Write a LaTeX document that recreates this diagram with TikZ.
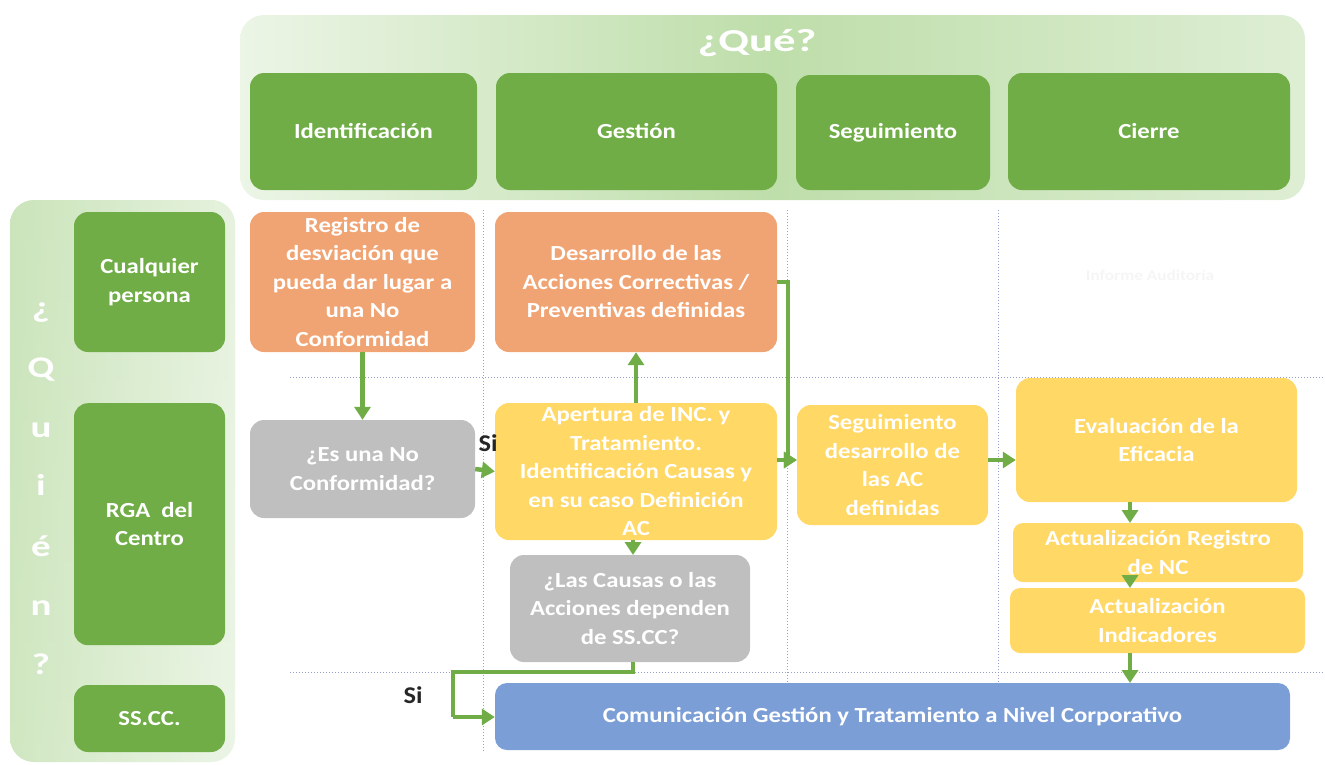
\documentclass[tikz,border=0pt]{standalone}
\usepackage{fontspec}
\setmainfont{Carlito}[FakeStretch=1.15]
\newfontfamily\titlefont{Carlito}[FakeStretch=1.4]
\newfontfamily\letterfont{Carlito}[FakeStretch=1.3]
\newfontfamily\sifont{Carlito}[FakeStretch=1.1]
\usetikzlibrary{arrows.meta}
\definecolor{hgreen}{RGB}{112,173,71}
\definecolor{borange}{RGB}{241,164,115}
\definecolor{byellow}{RGB}{255,216,102}
\definecolor{bgray}{RGB}{191,191,191}
\definecolor{bblue}{RGB}{124,158,214}
\definecolor{pgreenA}{RGB}{236,245,230}
\definecolor{pgreenB}{RGB}{190,222,170}
\definecolor{pgreenC}{RGB}{222,238,212}
\definecolor{dotcol}{RGB}{150,160,205}
\tikzset{
  box/.style={draw=none, rounded corners=14pt, inner sep=0pt, align=center,
    text=white, font=\bfseries\fontsize{21.5}{28.5}\selectfont},
  hdr/.style={box, fill=hgreen},
  orangebox/.style={box, fill=borange},
  yellowbox/.style={box, fill=byellow},
  graybox/.style={box, fill=bgray},
  bluebox/.style={box, fill=bblue},
  conn/.style={draw=hgreen, line width=4.5pt},
  arr/.style={conn, -{Triangle[width=16pt,length=13pt]}},
  sep/.style={draw=dotcol, dotted, line width=1pt},
  lbl/.style={font=\sifont\bfseries\fontsize{24}{26}\selectfont, text=black!85, inner sep=0pt},
  quienletter/.style={font=\letterfont\bfseries\fontsize{30}{32}\selectfont, text=white, inner sep=0pt}
}
\begin{document}
\begin{tikzpicture}[x=1pt,y=-1pt]
\useasboundingbox (0,0) rectangle (1325,764);
% panels
\shade[rounded corners=24pt, left color=pgreenA, right color=pgreenC, middle color=pgreenB] (240,15) rectangle (1305,200);
\shade[rounded corners=24pt, top color=pgreenC, bottom color=pgreenA, shading angle=0] (10,200) rectangle (235,762);
\shade[rounded corners=24pt, left color=pgreenB, right color=pgreenA, opacity=0.6] (10,200) rectangle (235,762);
\node[font=\titlefont\bfseries\fontsize{32}{34}\selectfont, text=white, inner sep=0pt] (que) at (757,43) {¿Qué?};
% quien letters
\node[quienletter] (q1) at (41,313) {¿};
\node[quienletter] (q2) at (41,370) {Q};
\node[quienletter] (q3) at (41,430) {u};
\node[quienletter] (q4) at (41,485) {i};
\node[quienletter] (q5) at (41,546) {é};
\node[quienletter] (q6) at (41,608) {n};
\node[quienletter] (q7) at (41,664) {?};
% separators
\draw[sep] (290,377) -- (1325,377);
\draw[sep] (290,672) -- (1325,672);
\draw[sep] (483,210) -- (483,752);
\draw[sep] (787,210) -- (787,682);
\draw[sep] (998,210) -- (998,682);
% headers
\node[hdr, minimum width=227pt, minimum height=117pt] (hid) at (363.5,131.5) {Identificación};
\node[hdr, minimum width=281pt, minimum height=117pt] (hge) at (636.5,131.5) {Gestión};
\node[hdr, minimum width=194pt, minimum height=115pt] (hse) at (893,132.5) {Seguimiento};
\node[hdr, minimum width=282pt, minimum height=117pt] (hci) at (1149,131.5) {Cierre};
% who
\node[hdr, minimum width=151pt, minimum height=140pt] (wcu) at (149.5,282) {Cualquier\\persona};
\node[hdr, minimum width=151pt, minimum height=242pt, anchor=north] (wrg) at (149.5,403) {};
\node[box, text=white] (wrgt) at (149.5,524) {RGA\ \ del\\Centro};
\node[hdr, minimum width=151pt, minimum height=67pt] (wss) at (149.5,718.5) {SS.CC.};
% process boxes
\node[orangebox, minimum width=225pt, minimum height=140pt] (reg) at (362.5,282) {Registro de\\desviación que\\pueda dar lugar a\\una No\\Conformidad};
\node[orangebox, minimum width=282pt, minimum height=140pt] (des) at (636,282) {Desarrollo de las\\Acciones Correctivas /\\Preventivas definidas};
\node[graybox, minimum width=225pt, minimum height=98pt] (esnc) at (362.5,469) {¿Es una No\\Conformidad?};
\node[yellowbox, minimum width=282pt, minimum height=137pt] (ape) at (636,471.5) {Apertura de INC. y\\Tratamiento.\\Identificación Causas y\\en su caso Definición\\AC};
\node[yellowbox, minimum width=191pt, minimum height=120pt] (seg) at (892.5,465) {Seguimiento\\desarrollo de\\las AC\\definidas};
\node[yellowbox, minimum width=281pt, minimum height=124pt] (eva) at (1156.5,440) {Evaluación de la\\Eficacia};
\node[yellowbox, rounded corners=10pt, minimum width=290pt, minimum height=59pt] (areg) at (1158,552.5) {Actualización Registro\\de NC};
\node[yellowbox, rounded corners=10pt, minimum width=295pt, minimum height=65pt] (aind) at (1157.5,620.5) {Actualización\\Indicadores};
\node[graybox, minimum width=240pt, minimum height=107pt] (cau) at (630,608.5) {¿Las Causas o las\\Acciones dependen\\de SS.CC?};
\node[bluebox, rounded corners=12pt, minimum width=795pt, minimum height=67pt] (com) at (892.5,716.5) {Comunicación Gestión y Tratamiento a Nivel Corporativo};
\node[font=\bfseries\fontsize{15}{18}\selectfont, text=black!4, inner sep=0pt] (inf) at (1150,275) {Informe Auditoría};
% labels
\node[lbl] (si1) at (488,443) {Si};
\node[lbl] (si2) at (413,695) {Si};
% connectors
\draw[arr] (reg.south) -- (esnc.north);
\draw[arr] (esnc.east) -- (ape.west);
\draw[arr] (ape.north) -- (des.south);
\coordinate (jn) at (788,460);
\draw[conn, line width=3.5pt] (des.east |- 0,282) -- (788,282) -- (jn);
\draw[arr] (ape.east |- jn) -- (seg.west |- jn);
\draw[arr] (jn) -- (seg.west |- jn);
\draw[arr] (seg.east |- 0,460) -- (eva.west |- 0,460);
\draw[arr] (1130,502) -- (1130,523);
\draw[arr] (1130,582) -- (1130,588);
\draw[arr] (1130,653) -- (1130,683);
\draw[arr] (633,540) -- (633,555);
\coordinate (c1) at (633,672);
\coordinate (c2) at (453,672);
\coordinate (c3) at (453,717);
\draw[conn] (633,662) -- (c1) -- (c2) -- (c3);
\draw[arr] (c3) -- (com.west |- c3);
\end{tikzpicture}
\end{document}
